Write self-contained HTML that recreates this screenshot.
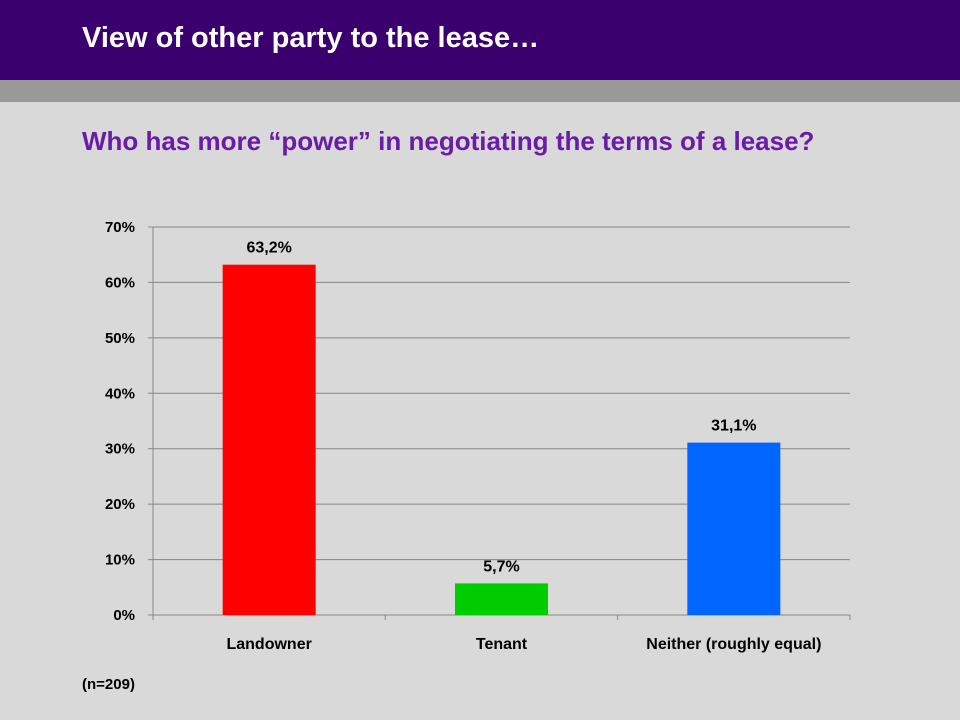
<!DOCTYPE html>
<html><head><meta charset="utf-8"><style>
body{margin:0;width:960px;height:720px;background:#d9d9d9;font-family:"Liberation Sans",Arial,sans-serif;overflow:hidden;position:relative}
#hdr{position:absolute;left:0;top:0;width:960px;height:80px;background:#3a006e}
#band{position:absolute;left:0;top:80px;width:960px;height:22px;background:#999}
#title{position:absolute;left:82px;top:22px;color:#fff;font-weight:bold;font-size:29px}
#sub{position:absolute;left:82px;top:120px;width:760px;color:#6a1ba8;font-weight:bold;font-size:26px;line-height:42px}
#n{position:absolute;left:82px;top:676px;font-weight:bold;font-size:15px}
svg{position:absolute;left:0;top:0}
</style></head><body>
<div id="hdr"></div>
<div id="band"></div>
<div id="title">View of other party to the lease…</div>
<div id="sub">Who has more “power” in negotiating the terms of a lease?</div>
<div id="n">(n=209)</div>
<svg id="chart" width="960" height="720"></svg>
<script>
const categories=["Landowner","Tenant","Neither (roughly equal)"];
const values=[63.2,5.7,31.1];
const valueLabels=["63,2%","5,7%","31,1%"];
const colors=["#ff0000","#00cc00","#0066ff"];
const ticks=[0,10,20,30,40,50,60,70];
const X0=153,X1=850,Y0=615,Y1=227,MAX=70;
const y=v=>Y0-(v/MAX)*(Y0-Y1);
const bw=(X1-X0)/categories.length;
const xc=i=>X0+bw*(i+0.5);
const svg=document.getElementById('chart');
const NS="http://www.w3.org/2000/svg";
function mk(t,a){const e=document.createElementNS(NS,t);for(const k in a)e.setAttribute(k,a[k]);svg.appendChild(e);return e;}
ticks.forEach(t=>{
 const g=mk('line',{x1:X0-5,x2:X1,y1:y(t),y2:y(t),stroke:t===0?'#868686':'#868686','stroke-width':1});
 
 
 const tx=mk('text',{x:X0-18,y:y(t)+5,'text-anchor':'end','font-size':15,'font-weight':'bold','font-family':'Liberation Sans, sans-serif'});
 tx.textContent=t+'%';
 
 
});
const ax=mk('line',{x1:X0,x2:X0,y1:Y1,y2:Y0,stroke:'#868686'});


for(let i=0;i<=categories.length;i++){
 const tk=mk('line',{x1:X0+bw*i,x2:X0+bw*i,y1:Y0,y2:Y0+5,stroke:'#868686'});
 
 
}
categories.forEach((c,i)=>{
 const w=93;
 const r=mk('rect',{x:xc(i)-w/2,y:y(values[i]),width:w,height:Y0-y(values[i]),fill:colors[i]});
 
 
 const l=mk('text',{x:xc(i),y:y(values[i])-12,'text-anchor':'middle','font-size':16,'font-weight':'bold','font-family':'Liberation Sans, sans-serif'});
 l.textContent=valueLabels[i];
 
 
 const xl=mk('text',{x:xc(i),y:649,'text-anchor':'middle','font-size':16,'font-weight':'bold','font-family':'Liberation Sans, sans-serif'});
 xl.textContent=c;
 
 
});
</script>
</body></html>
